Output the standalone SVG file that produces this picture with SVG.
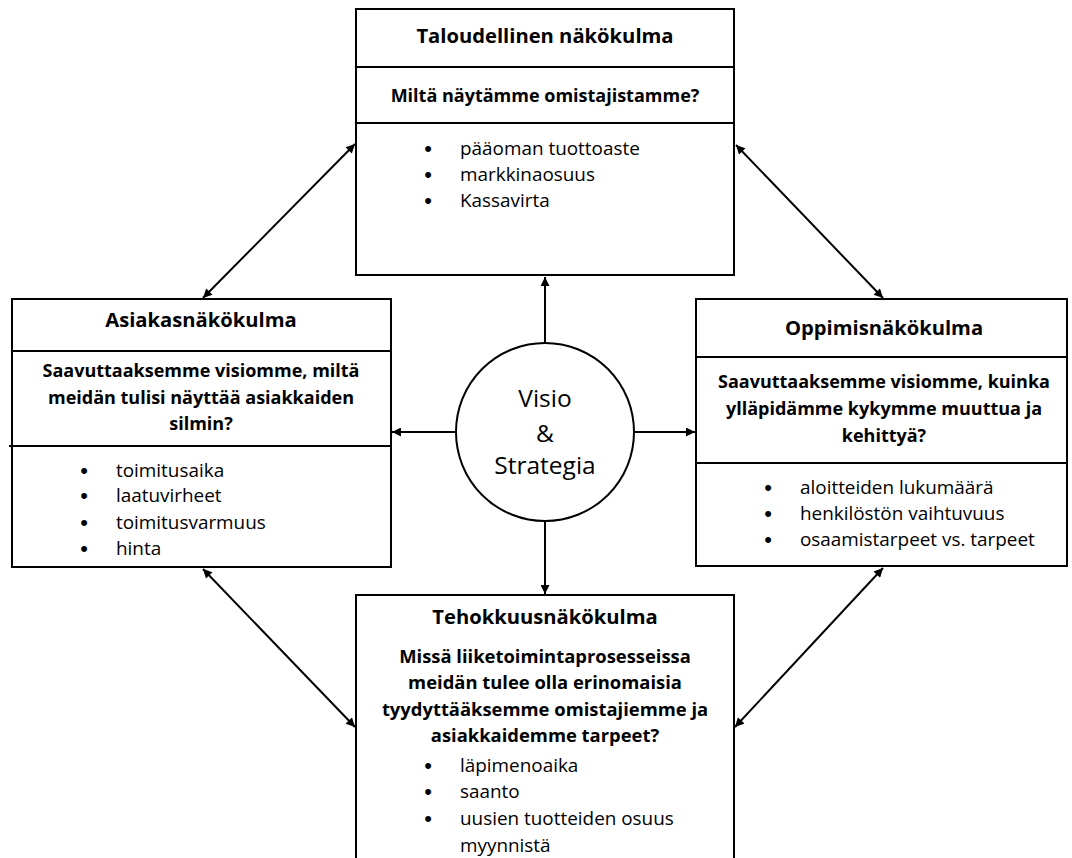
<svg xmlns="http://www.w3.org/2000/svg" width="1072" height="858" viewBox="0 0 1072 858">
  <style>
    .box { fill: #fff; stroke: #000; stroke-width: 2; }
    .div { stroke: #000; stroke-width: 2; }
    .title { font-family: "Open Sans", "Liberation Sans", sans-serif; font-weight: bold; font-size: 20.2px; text-anchor: middle; fill: #000; }
    .q { font-family: "Open Sans", "Liberation Sans", sans-serif; font-weight: bold; font-size: 18px; text-anchor: middle; fill: #000; }
    .qb { font-size: 18.4px; }
    .item { font-family: "Open Sans", "Liberation Sans", sans-serif; font-size: 18.9px; fill: #000; }
    .bul { font-family: "Liberation Sans", sans-serif; font-size: 22px; fill: #000; text-anchor: middle; }
    .center { font-family: "Open Sans", "Liberation Sans", sans-serif; font-size: 24.5px; text-anchor: middle; fill: #000; }
    .conn { stroke: #000; stroke-width: 2; fill: none; marker-end: url(#arrow); }
    .conn2 { stroke: #000; stroke-width: 2; fill: none; marker-start: url(#arrowStart); marker-end: url(#arrow); }
  </style>
  <defs>
    <marker id="arrow" viewBox="0 0 10 10" refX="10" refY="5" markerWidth="10" markerHeight="9" markerUnits="userSpaceOnUse" orient="auto">
      <path d="M0,0 L10,5 L0,10 z" fill="#000"/>
    </marker>
    <marker id="arrowStart" viewBox="0 0 10 10" refX="0" refY="5" markerWidth="10" markerHeight="9" markerUnits="userSpaceOnUse" orient="auto">
      <path d="M10,0 L0,5 L10,10 z" fill="#000"/>
    </marker>
  </defs>
  <rect width="1072" height="858" fill="#fff"/>

  <!-- connectors -->
  <g id="connectors">
    <line class="conn" x1="545" y1="343" x2="545" y2="277"/>
    <line class="conn" x1="634" y1="432" x2="695" y2="432"/>
    <line class="conn" x1="456" y1="432" x2="392" y2="432"/>
    <line class="conn" x1="545" y1="521" x2="545" y2="594"/>
    <line class="conn2" x1="203" y1="298" x2="355" y2="144"/>
    <line class="conn2" x1="736" y1="145" x2="883" y2="298"/>
    <line class="conn2" x1="203" y1="569" x2="355" y2="727"/>
    <line class="conn2" x1="883" y1="568" x2="735" y2="727"/>
  </g>

  <!-- financial perspective -->
  <g id="taloudellinen">
    <rect class="box" x="356" y="9" width="378" height="266"/>
    <line class="div" x1="356" y1="67" x2="734" y2="67"/>
    <line class="div" x1="356" y1="123" x2="734" y2="123"/>
    <text class="title" x="545" y="43">Taloudellinen näkökulma</text>
    <text class="q" x="545" y="102">Miltä näytämme omistajistamme?</text>
    <text class="bul" x="428" y="156">•</text><text class="item" x="460" y="155">pääoman tuottoaste</text>
    <text class="bul" x="428" y="182">•</text><text class="item" x="460" y="181">markkinaosuus</text>
    <text class="bul" x="428" y="208">•</text><text class="item" x="460" y="207">Kassavirta</text>
  </g>

  <!-- customer perspective -->
  <g id="asiakas">
    <rect class="box" x="12" y="299" width="379" height="268"/>
    <line class="div" x1="12" y1="351" x2="391" y2="351"/>
    <line class="div" x1="9" y1="446" x2="391" y2="446"/>
    <text class="title" x="201" y="327">Asiakasnäkökulma</text>
    <text class="q" x="201" y="377">Saavuttaaksemme visiomme, miltä</text>
    <text class="q" x="201" y="404">meidän tulisi näyttää asiakkaiden</text>
    <text class="q" x="201" y="430">silmin?</text>
    <text class="bul" x="84" y="478">•</text><text class="item" x="116" y="477">toimitusaika</text>
    <text class="bul" x="84" y="503">•</text><text class="item" x="116" y="502">laatuvirheet</text>
    <text class="bul" x="84" y="530">•</text><text class="item" x="116" y="529">toimitusvarmuus</text>
    <text class="bul" x="84" y="556">•</text><text class="item" x="116" y="555">hinta</text>
  </g>

  <!-- learning perspective -->
  <g id="oppiminen">
    <rect class="box" x="696" y="299" width="371" height="267"/>
    <line class="div" x1="696" y1="357" x2="1067" y2="357"/>
    <line class="div" x1="696" y1="463" x2="1067" y2="463"/>
    <text class="title" x="884" y="335">Oppimisnäkökulma</text>
    <text class="q" x="884" y="388">Saavuttaaksemme visiomme, kuinka</text>
    <text class="q" x="884" y="415">ylläpidämme kykymme muuttua ja</text>
    <text class="q" x="884" y="442">kehittyä?</text>
    <text class="bul" x="768" y="495">•</text><text class="item" x="800" y="494">aloitteiden lukumäärä</text>
    <text class="bul" x="768" y="521">•</text><text class="item" x="800" y="520">henkilöstön vaihtuvuus</text>
    <text class="bul" x="768" y="547">•</text><text class="item" x="800" y="546">osaamistarpeet vs. tarpeet</text>
  </g>

  <!-- process perspective -->
  <g id="tehokkuus">
    <rect class="box" x="356" y="595" width="378" height="280"/>
    <text class="title" x="545" y="624">Tehokkuusnäkökulma</text>
    <text class="q qb" x="545" y="663">Missä liiketoimintaprosesseissa</text>
    <text class="q qb" x="545" y="689">meidän tulee olla erinomaisia</text>
    <text class="q qb" x="545" y="716">tyydyttääksemme omistajiemme ja</text>
    <text class="q qb" x="545" y="742">asiakkaidemme tarpeet?</text>
    <text class="bul" x="428" y="773">•</text><text class="item" x="460" y="772">läpimenoaika</text>
    <text class="bul" x="428" y="799">•</text><text class="item" x="460" y="798">saanto</text>
    <text class="bul" x="428" y="826">•</text><text class="item" x="460" y="825">uusien tuotteiden osuus</text>
    <text class="item" x="460" y="852">myynnistä</text>
  </g>

  <!-- vision and strategy -->
  <g id="visio">
    <circle cx="545" cy="432" r="89" fill="#fff" stroke="#000" stroke-width="2"/>
    <text class="center" x="545" y="407">Visio</text>
    <text class="center" x="545" y="442">&amp;</text>
    <text class="center" x="545" y="474">Strategia</text>
  </g>
</svg>
